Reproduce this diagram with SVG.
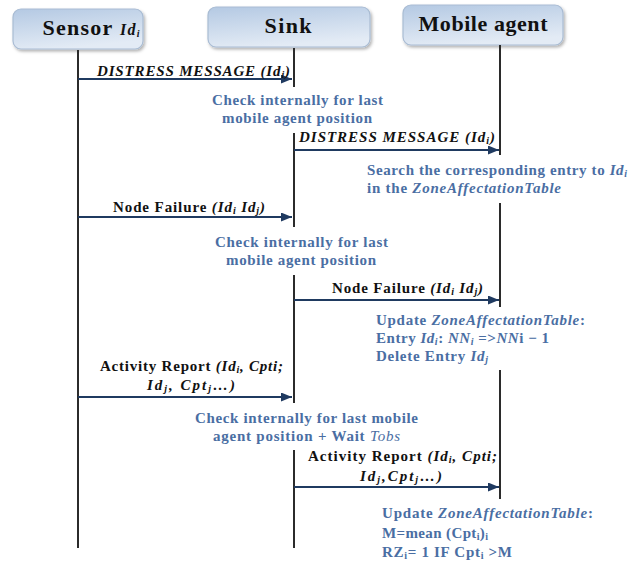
<svg xmlns="http://www.w3.org/2000/svg" width="630" height="562" viewBox="0 0 630 562">
<style>
.box{fill:url(#boxg);stroke:#a9bcd3;stroke-width:1.2;filter:url(#sh)}
.title{font-family:"Liberation Serif",serif;font-weight:bold;font-size:22px;fill:#111;text-anchor:middle}
.life{stroke:#2b2b2b;stroke-width:2;fill:none}
.msg{stroke:#1f3a60;stroke-width:2.2;fill:none;marker-end:url(#ah)}
.lbl{font-family:"Liberation Serif",serif;font-weight:bold;font-size:15px;fill:#111}
.it{font-style:italic}
.note{font-family:"Liberation Serif",serif;font-weight:bold;font-size:15px;fill:#4a6ea3}
.sub{font-size:10px;baseline-shift:-2px}
</style>
<defs>
<linearGradient id="boxg" x1="0" y1="0" x2="0.3" y2="1">
<stop offset="0" stop-color="#b4c9e3"/>
<stop offset="1" stop-color="#e3ebf5"/>
</linearGradient>
<filter id="sh" x="-10%" y="-20%" width="130%" height="150%">
<feDropShadow dx="1.5" dy="2" stdDeviation="1.5" flood-color="#000" flood-opacity="0.3"/>
</filter>
<marker id="ah" markerUnits="userSpaceOnUse" markerWidth="12" markerHeight="10" refX="11" refY="4.5" orient="auto">
<path d="M0,0 L11,4.5 L0,9 Z" fill="#1f3a60"/>
</marker>
</defs>

<g id="sensor">
<rect class="box" x="13" y="9" width="130" height="40" rx="8"/>
<text class="title" x="91" y="35" textLength="97" lengthAdjust="spacing">Sensor <tspan class="it" font-size="16">Id<tspan class="sub">i</tspan></tspan></text>
</g>
<g id="sink">
<rect class="box" x="208" y="7" width="162" height="40" rx="8"/>
<text class="title" x="288" y="33" textLength="47" lengthAdjust="spacing">Sink</text>
</g>
<g id="mobile">
<rect class="box" x="403" y="5" width="160" height="40" rx="8"/>
<text class="title" x="483" y="31" textLength="129" lengthAdjust="spacing">Mobile agent</text>
</g>

<g id="lifelines">
<line class="life" x1="78" y1="50" x2="78" y2="548"/>
<line class="life" x1="294" y1="48" x2="294" y2="87"/>
<line class="life" x1="294" y1="133" x2="294" y2="227"/>
<line class="life" x1="294" y1="275" x2="294" y2="403"/>
<line class="life" x1="294" y1="450" x2="294" y2="548"/>
<line class="life" x1="500" y1="45" x2="500" y2="155"/>
<line class="life" x1="500" y1="203" x2="500" y2="307"/>
<line class="life" x1="500" y1="370" x2="500" y2="499"/>
</g>

<g id="connectors">
<line class="msg" x1="78" y1="79" x2="292" y2="79"/>
<line class="msg" x1="294" y1="150" x2="499" y2="150"/>
<line class="msg" x1="78" y1="217" x2="292" y2="217"/>
<line class="msg" x1="294" y1="300" x2="499" y2="300"/>
<line class="msg" x1="78" y1="397" x2="292" y2="397"/>
<line class="msg" x1="294" y1="487" x2="499" y2="487"/>
</g>

<g id="labels">
<text class="lbl it" x="97" y="76" textLength="193" lengthAdjust="spacing">DISTRESS MESSAGE  (Id<tspan class="sub">i</tspan>)</text>
<text class="lbl it" x="299" y="142" textLength="196" lengthAdjust="spacing">DISTRESS MESSAGE  (Id<tspan class="sub">i</tspan>)</text>
<text class="lbl" x="113" y="212" textLength="152" lengthAdjust="spacing">Node Failure <tspan class="it">(Id<tspan class="sub">i</tspan> Id<tspan class="sub">j</tspan>)</tspan></text>
<text class="lbl" x="332" y="293" textLength="151" lengthAdjust="spacing">Node Failure <tspan class="it">(Id<tspan class="sub">i</tspan> Id<tspan class="sub">j</tspan>)</tspan></text>
<text class="lbl" x="100" y="371" textLength="183" lengthAdjust="spacing">Activity Report <tspan class="it">(Id<tspan class="sub">i</tspan>, Cpti;</tspan></text>
<text class="lbl it" x="147" y="390" textLength="88" lengthAdjust="spacing">Id<tspan class="sub">j</tspan>, Cpt<tspan class="sub">j</tspan>…)</text>
<text class="lbl" x="308" y="461" textLength="189" lengthAdjust="spacing">Activity Report <tspan class="it">(Id<tspan class="sub">i</tspan>, Cpti;</tspan></text>
<text class="lbl it" x="360" y="481" textLength="82" lengthAdjust="spacing">Id<tspan class="sub">j</tspan>,Cpt<tspan class="sub">j</tspan>…)</text>
</g>

<g id="notes">
<text class="note" x="212" y="105" textLength="171" lengthAdjust="spacing">Check internally for last</text>
<text class="note" x="222" y="123" textLength="150" lengthAdjust="spacing">mobile agent position</text>
<text class="note" x="367" y="175" textLength="260" lengthAdjust="spacing">Search the corresponding entry to <tspan class="it">Id<tspan class="sub">i</tspan></tspan></text>
<text class="note" x="367" y="193" textLength="194" lengthAdjust="spacing">in the <tspan class="it">ZoneAffectationTable</tspan></text>
<text class="note" x="215" y="247" textLength="173" lengthAdjust="spacing">Check internally for last</text>
<text class="note" x="226" y="265" textLength="150" lengthAdjust="spacing">mobile agent position</text>
<text class="note" x="376" y="325" textLength="209" lengthAdjust="spacing">Update <tspan class="it">ZoneAffectationTable</tspan>:</text>
<text class="note" x="376" y="343" textLength="173" lengthAdjust="spacing">Entry <tspan class="it">Id<tspan class="sub">i</tspan></tspan>: <tspan class="it">NN<tspan class="sub">i</tspan></tspan> =&gt;<tspan class="it">NN</tspan>i − 1</text>
<text class="note" x="376" y="361" textLength="112" lengthAdjust="spacing">Delete Entry <tspan class="it">Id<tspan class="sub">j</tspan></tspan></text>
<text class="note" x="195" y="423" textLength="223" lengthAdjust="spacing">Check internally for last mobile</text>
<text class="note" x="213" y="441" textLength="187" lengthAdjust="spacing">agent position + Wait <tspan class="it" font-weight="normal">Tobs</tspan></text>
<text class="note" x="382" y="518" textLength="211" lengthAdjust="spacing">Update <tspan class="it">ZoneAffectationTable</tspan>:</text>
<text class="note" x="382" y="538" textLength="106" lengthAdjust="spacing">M=mean (Cpt<tspan class="sub">i</tspan>)<tspan class="sub">i</tspan></text>
<text class="note" x="382" y="557" textLength="130" lengthAdjust="spacing">RZ<tspan class="sub">i</tspan>= 1 IF Cpt<tspan class="sub">i</tspan> &gt;M</text>
</g>
</svg>
